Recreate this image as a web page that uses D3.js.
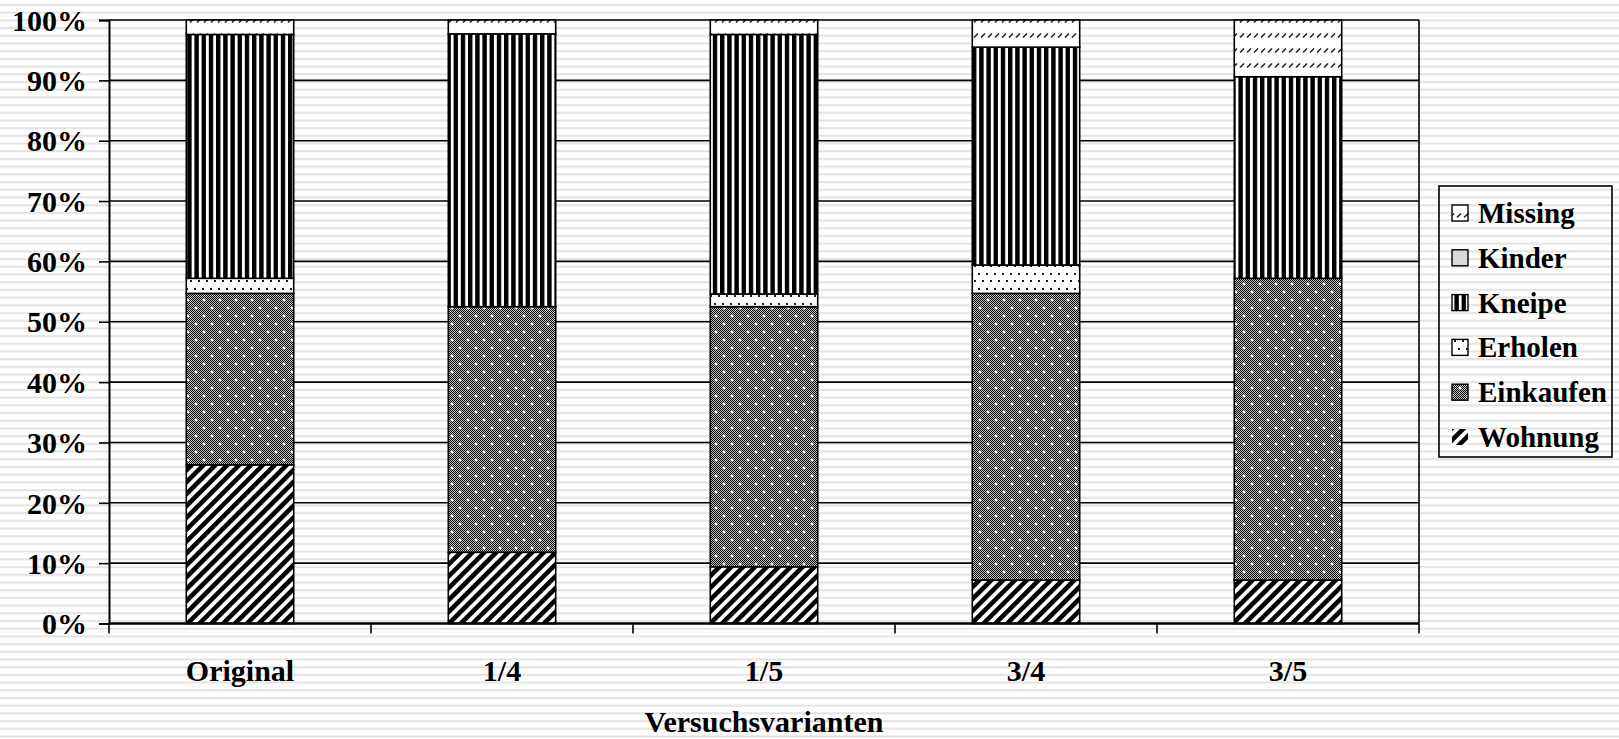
<!DOCTYPE html>
<html>
<head>
<meta charset="utf-8">
<script src="https://cdn.jsdelivr.net/npm/d3@7"></script>
<style>
  html, body { margin: 0; padding: 0; background: #fff; }
  svg { display: block; }
  text { font-family: "Liberation Serif", "Times New Roman", "DejaVu Serif", serif; font-weight: bold; fill: #000; }
</style>
</head>
<body>
<svg id="chart" width="1619" height="739"></svg>
<script>
// ---- data ----
const categories = ["Original", "1/4", "1/5", "3/4", "3/5"];
const seriesNames = ["Wohnung", "Einkaufen", "Erholen", "Kneipe", "Kinder", "Missing"];
const wohnung   = [26.3, 11.8,  9.4,  7.2,  7.2];
const einkaufen = [28.4, 40.7, 43.1, 47.5, 50.0];
const erholen   = [ 2.5,  0.0,  2.1,  4.7,  0.0];
const kneipe    = [40.4, 45.2, 43.0, 36.1, 33.4];
const kinder    = [ 0.0,  0.0,  0.0,  0.0,  0.0];
const missing   = [ 2.4,  2.3,  2.4,  4.5,  9.4];
const yTicks = [0, 10, 20, 30, 40, 50, 60, 70, 80, 90, 100];
const xTitle = "Versuchsvarianten";

const seriesValues = { Wohnung: wohnung, Einkaufen: einkaufen, Erholen: erholen, Kneipe: kneipe, Kinder: kinder, Missing: missing };
const table = categories.map((c, i) => {
  const row = { cat: c };
  seriesNames.forEach(s => row[s] = seriesValues[s][i]);
  return row;
});

const FONT = "'Liberation Serif', 'Times New Roman', 'DejaVu Serif', serif";
const FS = "30px";

const svg = d3.select("#chart");
const defs = svg.append("defs");

// background stripes
const bg = defs.append("pattern").attr("id", "bgStripes").attr("patternUnits", "userSpaceOnUse")
  .attr("width", 20).attr("height", 7.7);
bg.append("rect").attr("width", 20).attr("height", 7.7).attr("fill", "#fff");
bg.append("rect").attr("y", 4).attr("width", 20).attr("height", 2).attr("fill", "#e2e2e2");

// Wohnung: wide upward diagonal
const pw = defs.append("pattern").attr("id", "pWohnung").attr("patternUnits", "userSpaceOnUse")
  .attr("width", 8.4).attr("height", 8).attr("patternTransform", "rotate(45)");
pw.append("rect").attr("width", 8.4).attr("height", 8).attr("fill", "#fff");
pw.append("rect").attr("width", 4.6).attr("height", 8).attr("fill", "#000");

// checker for Einkaufen
const pc = defs.append("pattern").attr("id", "pChecker").attr("patternUnits", "userSpaceOnUse")
  .attr("width", 2).attr("height", 2);
pc.append("rect").attr("width", 2).attr("height", 2).attr("fill", "#c4c4c4");
pc.append("rect").attr("width", 1).attr("height", 1).attr("fill", "#000");
pc.append("rect").attr("x", 1).attr("y", 1).attr("width", 1).attr("height", 1).attr("fill", "#000");

const pe = defs.append("pattern").attr("id", "pEinkaufen").attr("patternUnits", "userSpaceOnUse")
  .attr("width", 16).attr("height", 16);
pe.append("rect").attr("width", 16).attr("height", 16).attr("fill", "url(#pChecker)");
[[4, 4], [12, 12]].forEach(([cx, cy]) => {
  pe.append("rect").attr("x", cx - 1.5).attr("y", cy - 0.5).attr("width", 3).attr("height", 1).attr("fill", "#fff");
  pe.append("rect").attr("x", cx - 0.5).attr("y", cy - 1.5).attr("width", 1).attr("height", 3).attr("fill", "#fff");
  pe.append("rect").attr("x", cx - 1).attr("y", cy - 1).attr("width", 2).attr("height", 2).attr("fill", "#fff");
});

// Erholen: sparse dots
const pr = defs.append("pattern").attr("id", "pErholen").attr("patternUnits", "userSpaceOnUse")
  .attr("width", 8).attr("height", 15);
pr.append("rect").attr("width", 8).attr("height", 15).attr("fill", "#fff");
pr.append("rect").attr("x", 2).attr("y", 3).attr("width", 2).attr("height", 2).attr("fill", "#222");
pr.append("rect").attr("x", 6).attr("y", 10).attr("width", 2).attr("height", 2).attr("fill", "#222");

// Kneipe: vertical stripes
const pk = defs.append("pattern").attr("id", "pKneipe").attr("patternUnits", "userSpaceOnUse")
  .attr("width", 7.2).attr("height", 10);
pk.append("rect").attr("width", 7.2).attr("height", 10).attr("fill", "#fff");
pk.append("rect").attr("width", 4.4).attr("height", 10).attr("fill", "#000");

// Missing: small diagonal dashes
const pm = defs.append("pattern").attr("id", "pMissing").attr("patternUnits", "userSpaceOnUse")
  .attr("width", 7).attr("height", 15);
pm.append("rect").attr("width", 7).attr("height", 15).attr("fill", "#fff");
pm.append("line").attr("x1", 1).attr("y1", 7.5).attr("x2", 5).attr("y2", 3.5)
  .attr("stroke", "#222").attr("stroke-width", 1.6);

const fills = {
  Wohnung: "url(#pWohnung)", Einkaufen: "url(#pEinkaufen)", Erholen: "url(#pErholen)",
  Kneipe: "url(#pKneipe)", Kinder: "#d9d9d9", Missing: "url(#pMissing)"
};

svg.append("rect").attr("width", 1619).attr("height", 739).attr("fill", "url(#bgStripes)");

// ---- scales ----
const plot = { left: 109, right: 1419, top: 20, bottom: 623.5 };
const x = d3.scaleBand().domain(categories).range([plot.left, plot.right])
  .paddingInner(0.59).paddingOuter(0.295);
const y = d3.scaleLinear().domain([0, 100]).range([plot.bottom, plot.top]);

// gridlines
svg.append("g").selectAll("line").data(yTicks.filter(t => t > 0)).join("line")
  .attr("x1", plot.left).attr("x2", plot.right)
  .attr("y1", d => y(d)).attr("y2", d => y(d))
  .attr("stroke", "#000").attr("stroke-width", 1.6);

// right border
svg.append("line").attr("x1", plot.right).attr("x2", plot.right)
  .attr("y1", plot.top).attr("y2", plot.bottom)
  .attr("stroke", "#000").attr("stroke-width", 1.6);

// bars
const stack = d3.stack().keys(seriesNames);
const stacked = stack(table);
svg.append("g").selectAll("g").data(stacked).join("g")
  .attr("fill", d => fills[d.key])
  .selectAll("rect").data(d => d.filter(p => p[1] - p[0] > 0)).join("rect")
  .attr("x", d => x(d.data.cat))
  .attr("width", x.bandwidth())
  .attr("y", d => y(d[1]))
  .attr("height", d => y(d[0]) - y(d[1]))
  .attr("stroke", "#000").attr("stroke-width", 1.6);

// y axis
const yAxis = svg.append("g").attr("transform", `translate(${plot.left},0)`)
  .call(d3.axisLeft(y).tickValues(yTicks).tickFormat(d => d + "%").tickSize(10).tickPadding(12));
yAxis.attr("font-family", null).attr("font-size", null);
yAxis.select(".domain").attr("stroke", "#000").attr("stroke-width", 2);
yAxis.selectAll(".tick line").attr("stroke", "#000").attr("stroke-width", 1.6);
yAxis.selectAll(".tick text").style("font-family", FONT)
  .style("font-weight", "bold").style("font-size", FS).attr("dy", "0.34em");

// x axis: category labels
const xAxis = svg.append("g").attr("transform", `translate(0,${plot.bottom})`)
  .call(d3.axisBottom(x).tickSize(0).tickPadding(36));
xAxis.attr("font-family", null).attr("font-size", null);
xAxis.select(".domain").attr("stroke", "#000").attr("stroke-width", 2.4)
  .attr("d", `M${plot.left},0H${plot.right}`);
xAxis.selectAll(".tick text").style("font-family", FONT)
  .style("font-weight", "bold").style("font-size", FS).attr("dy", "0.71em");

// boundary tick marks between categories
const boundaries = categories.map(c => x(c) - x.step() * x.paddingInner() / 2).concat([plot.right]);
svg.append("g").selectAll("line").data(boundaries).join("line")
  .attr("x1", d => d).attr("x2", d => d)
  .attr("y1", plot.bottom).attr("y2", plot.bottom + 10)
  .attr("stroke", "#000").attr("stroke-width", 1.6);

// axis title
svg.append("text").attr("x", (plot.left + plot.right) / 2).attr("y", 732)
  .attr("text-anchor", "middle").style("font-family", FONT).style("font-size", FS).text(xTitle);

// legend
const legendOrder = seriesNames.slice().reverse();
const lg = svg.append("g");
lg.append("rect").attr("x", 1439).attr("y", 186).attr("width", 173).attr("height", 271)
  .attr("fill", "none").attr("stroke", "#000").attr("stroke-width", 1.6);
const ly = d3.scalePoint().domain(legendOrder).range([213, 437]);
const items = lg.selectAll("g.item").data(legendOrder).join("g").attr("class", "item");
items.append("rect").attr("x", 1452).attr("y", d => ly(d) - 8).attr("width", 16).attr("height", 16)
  .attr("fill", d => fills[d]).attr("stroke", d => d === "Wohnung" ? "none" : "#000").attr("stroke-width", 1.4);
items.append("text").attr("x", 1478).attr("y", d => ly(d) + 10)
  .style("font-family", FONT).style("font-size", "29px").text(d => d);
</script>
</body>
</html>
